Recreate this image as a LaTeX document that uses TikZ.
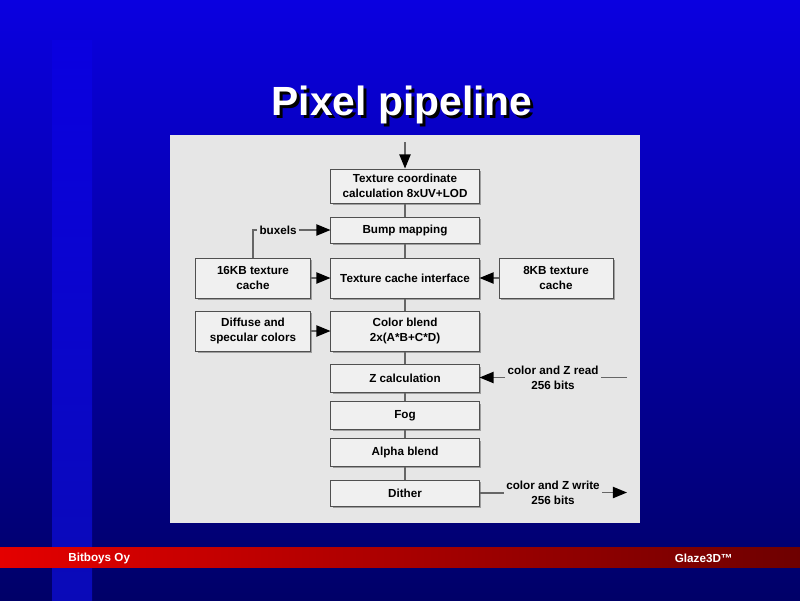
\documentclass[tikz,border=0pt]{standalone}
\usepackage{fontspec}
\setmainfont{Liberation Sans}
\usetikzlibrary{arrows.meta,shadows}
\definecolor{bgtop}{HTML}{0A00E0}
\definecolor{bgbot}{HTML}{000068}
\definecolor{bandbot}{HTML}{0A0AB8}
\definecolor{panel}{HTML}{E6E6E6}
\definecolor{boxfill}{HTML}{F0F0F0}
\definecolor{boxline}{HTML}{505050}
\definecolor{wire}{HTML}{666666}
\definecolor{redl}{HTML}{E40000}
\definecolor{redr}{HTML}{6E0000}
\begin{document}
\begin{tikzpicture}[x=0.025cm,y=-0.025cm,
    every node/.style={font=\fontsize{8.3}{10.7}\selectfont\bfseries,align=center,inner sep=1.5pt},
    box/.style={draw=boxline,fill=boxfill,line width=0.7pt,minimum width=3.7cm,
        drop shadow={shadow xshift=0.05cm,shadow yshift=-0.05cm,fill=gray!75,opacity=1}},
    sidebox/.style={box,minimum width=2.85cm,minimum height=1cm},
    wire/.style={draw=wire,line width=0.9pt},
    flow/.style={wire,-{Triangle[length=10pt,width=8pt,color=black,fill=black]}}]
    \useasboundingbox (0,0) rectangle (800,600);
    % background
    \shade[top color=bgtop,bottom color=bgbot] (0,0) rectangle (800,600);
    \shade[top color=bgtop,bottom color=bandbot] (52,40) rectangle (92,600);
    \shade[left color=redl,right color=redr] (0,547) rectangle (800,567);
    \fill[panel] (170,135) rectangle (640,523);

    \node[font=\fontsize{29}{30}\selectfont\bfseries,text=white] (title) at (402,106)
        {\makebox[0pt][l]{\hspace{2.2pt}\raisebox{-2.2pt}{\color{black}Pixel pipeline}}Pixel pipeline};
    \node[text=white,anchor=west] (maker) at (66,558) {Bitboys Oy};
    \node[text=white,anchor=east] (product) at (735,558) {Glaze3D™};

    \node[box,minimum height=0.85cm] (tcc) at (405,186) {Texture coordinate\\calculation 8xUV+LOD};
    \node[box,minimum height=0.65cm] (bump) at (405,230) {Bump mapping};
    \node[box,minimum height=1cm] (tci) at (405,278) {Texture cache interface};
    \node[box,minimum height=1cm] (cblend) at (405,331) {Color blend\\2x(A*B+C*D)};
    \node[box,minimum height=0.68cm] (zcalc) at (405,378.5) {Z calculation};
    \node[box,minimum height=0.68cm] (fog) at (405,415.5) {Fog};
    \node[box,minimum height=0.68cm] (alpha) at (405,452.5) {Alpha blend};
    \node[box,minimum height=0.65cm] (dither) at (405,493) {Dither};

    \node[sidebox] (c16) at (253,278) {16KB texture\\cache};
    \node[sidebox] (diffuse) at (253,331) {Diffuse and\\specular colors};
    \node[sidebox] (c8) at (556,278) {8KB texture\\cache};

    \node (bux) at (278,230) {buxels};
    \node (zread) at (553,377.5) {color and Z read\\256 bits};
    \node (zwrite) at (553,492.5) {color and Z write\\256 bits};
    \coordinate (in) at (405,142);
    \coordinate (readend) at (627,377.5);
    \coordinate (writeend) at (627,492.5);

    \draw[wire] (tcc)--(bump);
    \draw[wire] (bump)--(tci);
    \draw[wire] (tci)--(cblend);
    \draw[wire] (cblend)--(zcalc);
    \draw[wire] (zcalc)--(fog);
    \draw[wire] (fog)--(alpha);
    \draw[wire] (alpha)--(dither);

    \draw[flow] (in)--(tcc);
    \draw[wire] (c16.north)|-(bux.west);
    \draw[flow] (bux)--(bump);
    \draw[flow] (c16)--(tci);
    \draw[flow] (c8)--(tci);
    \draw[flow] (diffuse)--(cblend);
    \draw[wire] (readend)--(zread);
    \draw[flow] (zread.west)--(zcalc.east |- zread.west);
    \draw[wire] (dither)--(zwrite.west |- dither.east);
    \draw[flow] (zwrite.east |- writeend)--(writeend);
\end{tikzpicture}
\end{document}
